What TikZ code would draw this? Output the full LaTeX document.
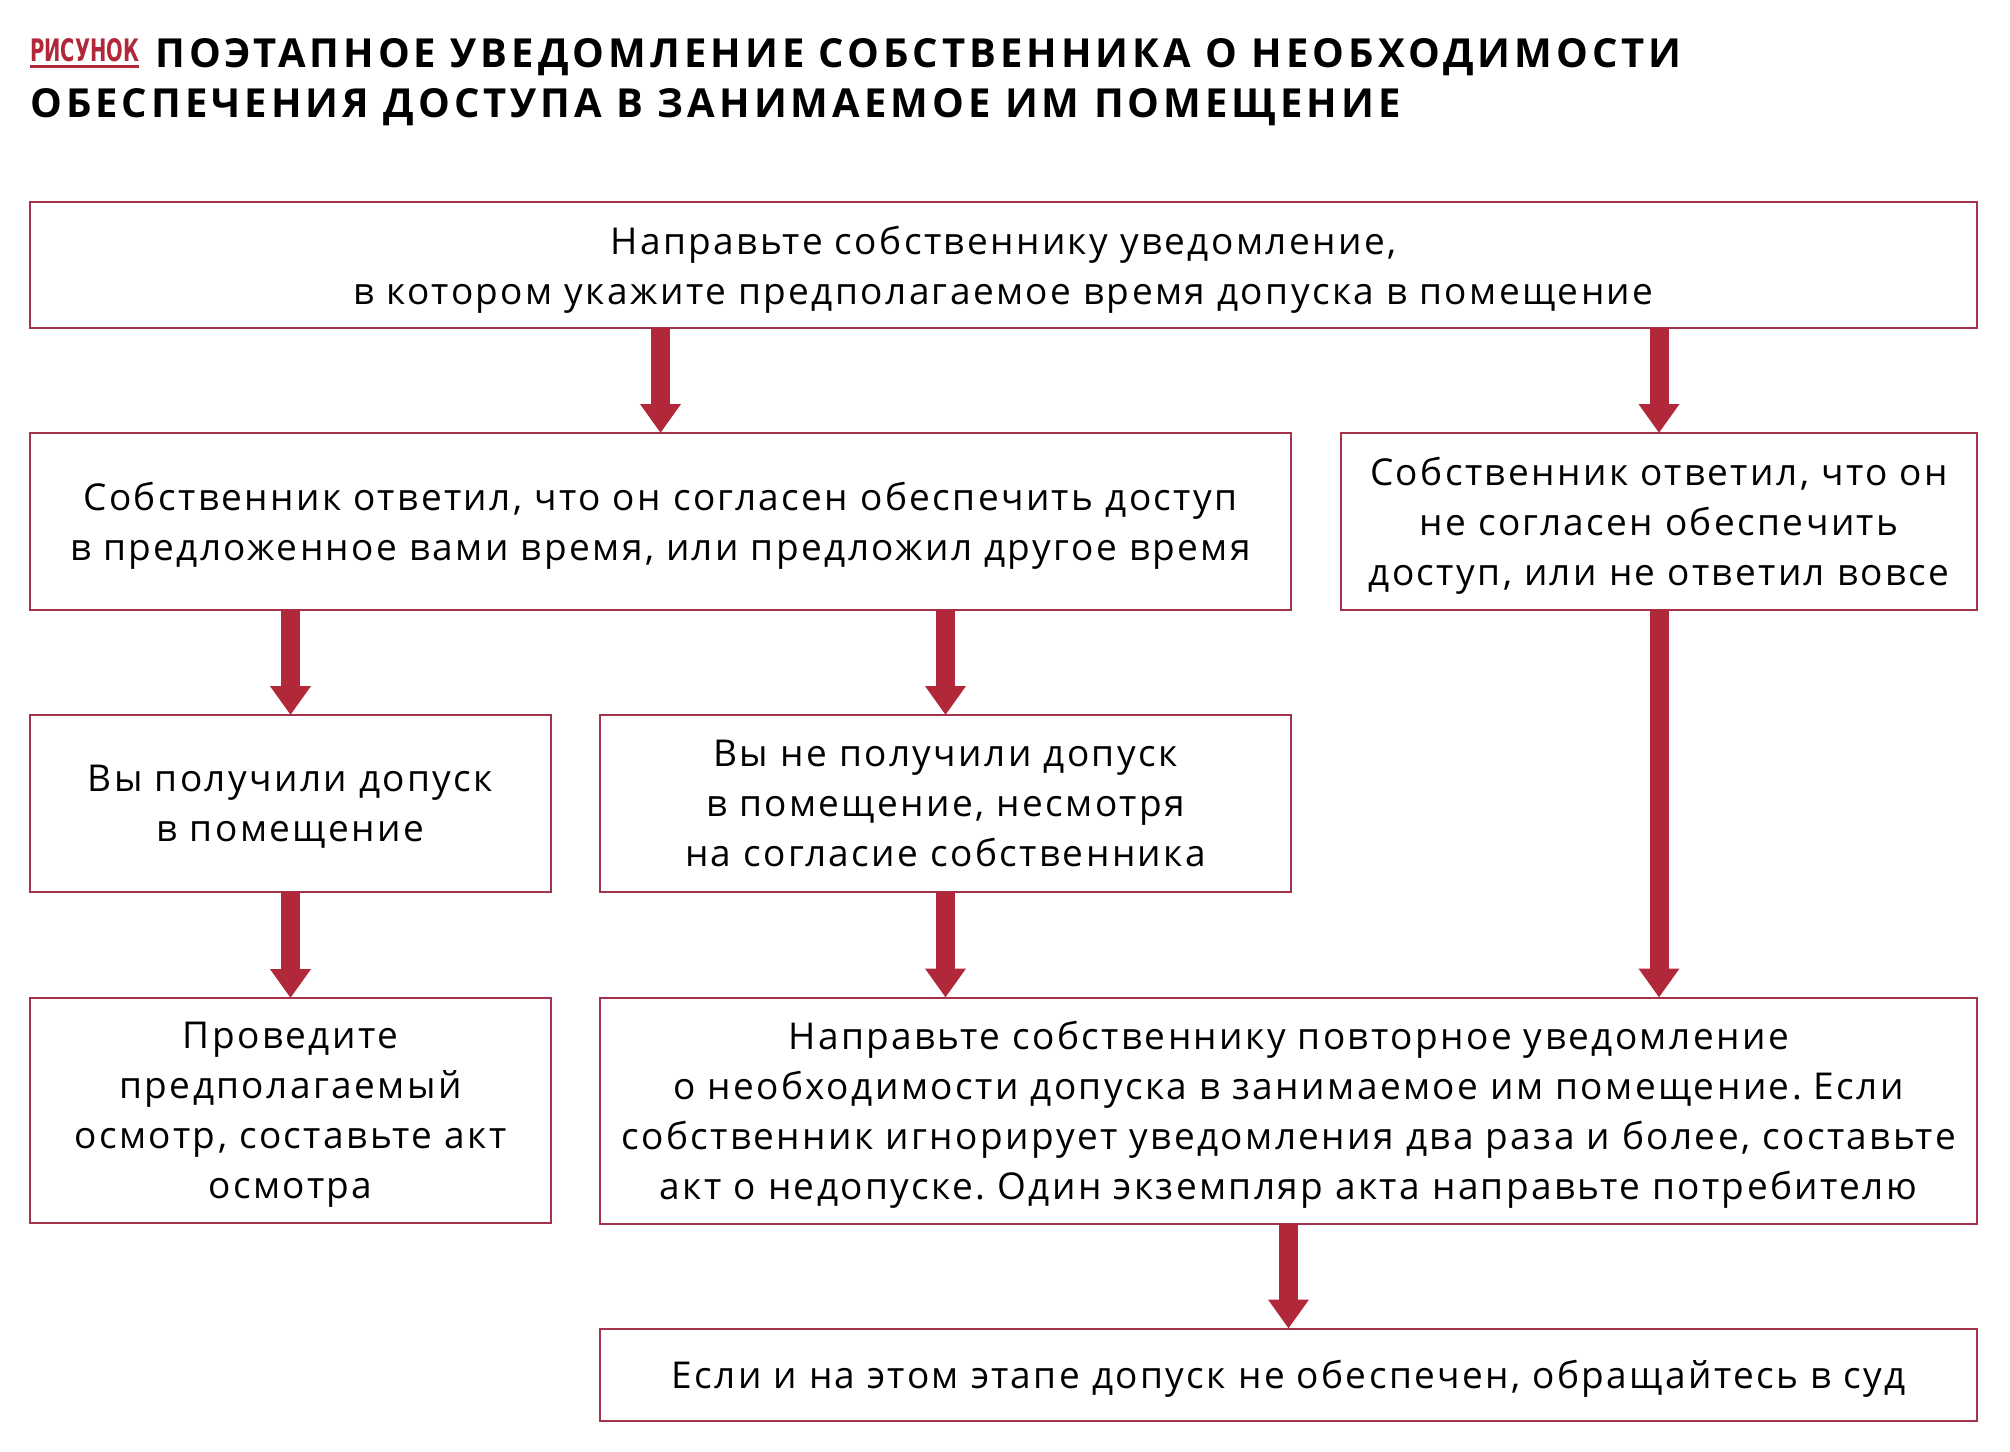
\documentclass[tikz,border=0pt]{standalone}
\usepackage{fontspec}
\usepackage{graphicx}
\setmainfont{Open Sans}
\newfontfamily\bodyfont[LetterSpace=6.5]{Open Sans}
\newfontfamily\headfont[LetterSpace=10]{Open Sans}
\newfontfamily\tagfont{DejaVu Sans}
\usetikzlibrary{arrows.meta,positioning,calc}
\definecolor{rubric}{HTML}{B0283A}
\definecolor{rubricline}{HTML}{A3324A}
\frenchspacing
% last line of a box: no depth, so the text sits as in the original
\newcommand\lastline[1]{\raisebox{0pt}[\height][0pt]{#1}}

\begin{document}
\begin{tikzpicture}[x=1pt, y=-1pt,
    stepbox/.style={draw=rubricline, line width=2pt, inner sep=0pt, outer sep=0pt,
        align=center, font=\bodyfont\fontsize{37}{50}\selectfont},
    flow/.style={draw=rubric, line width=19pt, -{Triangle[width=39pt,length=29pt]}},
    headline/.style={anchor=base west, inner sep=0pt, font=\headfont\bfseries\fontsize{40}{50}\selectfont}]
    \useasboundingbox (0,0) rectangle (2010,1451);
    % title
    \node[anchor=base west, inner sep=0pt, text=rubric,
        font=\tagfont\bfseries] (figlabel) at (30,61) {\resizebox{109pt}{23pt}{РИСУНОК}};
    \draw[rubric, line width=3pt] ([yshift=-5pt]figlabel.base west) -- ([yshift=-5pt]figlabel.base east);
    \node[headline] (title1) at (155,67) {ПОЭТАПНОЕ УВЕДОМЛЕНИЕ СОБСТВЕННИКА О НЕОБХОДИМОСТИ};
    \node[headline] (title2) at (30,117) {ОБЕСПЕЧЕНИЯ ДОСТУПА В ЗАНИМАЕМОЕ ИМ ПОМЕЩЕНИЕ};
    % boxes
    \node[stepbox, minimum width=1947pt, minimum height=126pt] (notice) at (1003.5,265)
        {Направьте собственнику уведомление,\\\lastline{в котором укажите предполагаемое время допуска в помещение}};
    \node[stepbox, minimum width=1261pt, minimum height=177pt,
        below=105pt of notice.south west, anchor=north west] (agreed)
        {Собственник ответил, что он согласен обеспечить доступ\\\lastline{в предложенное вами время, или предложил другое время}};
    \node[stepbox, minimum width=636pt, minimum height=177pt, right=50pt of agreed] (refused)
        {Собственник ответил, что он\\не согласен обеспечить\\\lastline{доступ, или не ответил вовсе}};
    \node[stepbox, minimum width=521pt, minimum height=177pt,
        below=105pt of agreed.south west, anchor=north west] (granted)
        {Вы получили допуск\\\lastline{в помещение}};
    \node[stepbox, minimum width=691pt, minimum height=177pt, right=49pt of granted] (denied)
        {Вы не получили допуск\\в помещение, несмотря\\\lastline{на согласие собственника}};
    \node[stepbox, minimum width=521pt, minimum height=225pt,
        below=106pt of granted.south west, anchor=north west] (inspect)
        {Проведите\\предполагаемый\\осмотр, составьте акт\\\lastline{осмотра}};
    \node[stepbox, minimum width=1377pt, minimum height=226pt, right=49pt of inspect] (renotice)
        {Направьте собственнику повторное уведомление\\о необходимости допуска в занимаемое им помещение. Если\\собственник игнорирует уведомления два раза и более, составьте\\\lastline{акт о недопуске. Один экземпляр акта направьте потребителю}};
    \node[stepbox, minimum width=1377pt, minimum height=92pt, below=105pt of renotice] (court)
        {\lastline{Если и на этом этапе допуск не обеспечен, обращайтесь в суд}};
    % arrows
    \draw[flow] (notice.south -| agreed.north) -- (agreed.north);
    \draw[flow] (notice.south -| refused.north) -- (refused.north);
    \draw[flow] (agreed.south -| granted.north) -- (granted.north);
    \draw[flow] (agreed.south -| denied.north) -- (denied.north);
    \draw[flow] (granted.south) -- (inspect.north);
    \draw[flow] (denied.south) -- (denied.south |- renotice.north);
    \draw[flow] (refused.south) -- (refused.south |- renotice.north);
    \draw[flow] (renotice.south -| court.north) -- (court.north);
\end{tikzpicture}
\end{document}
